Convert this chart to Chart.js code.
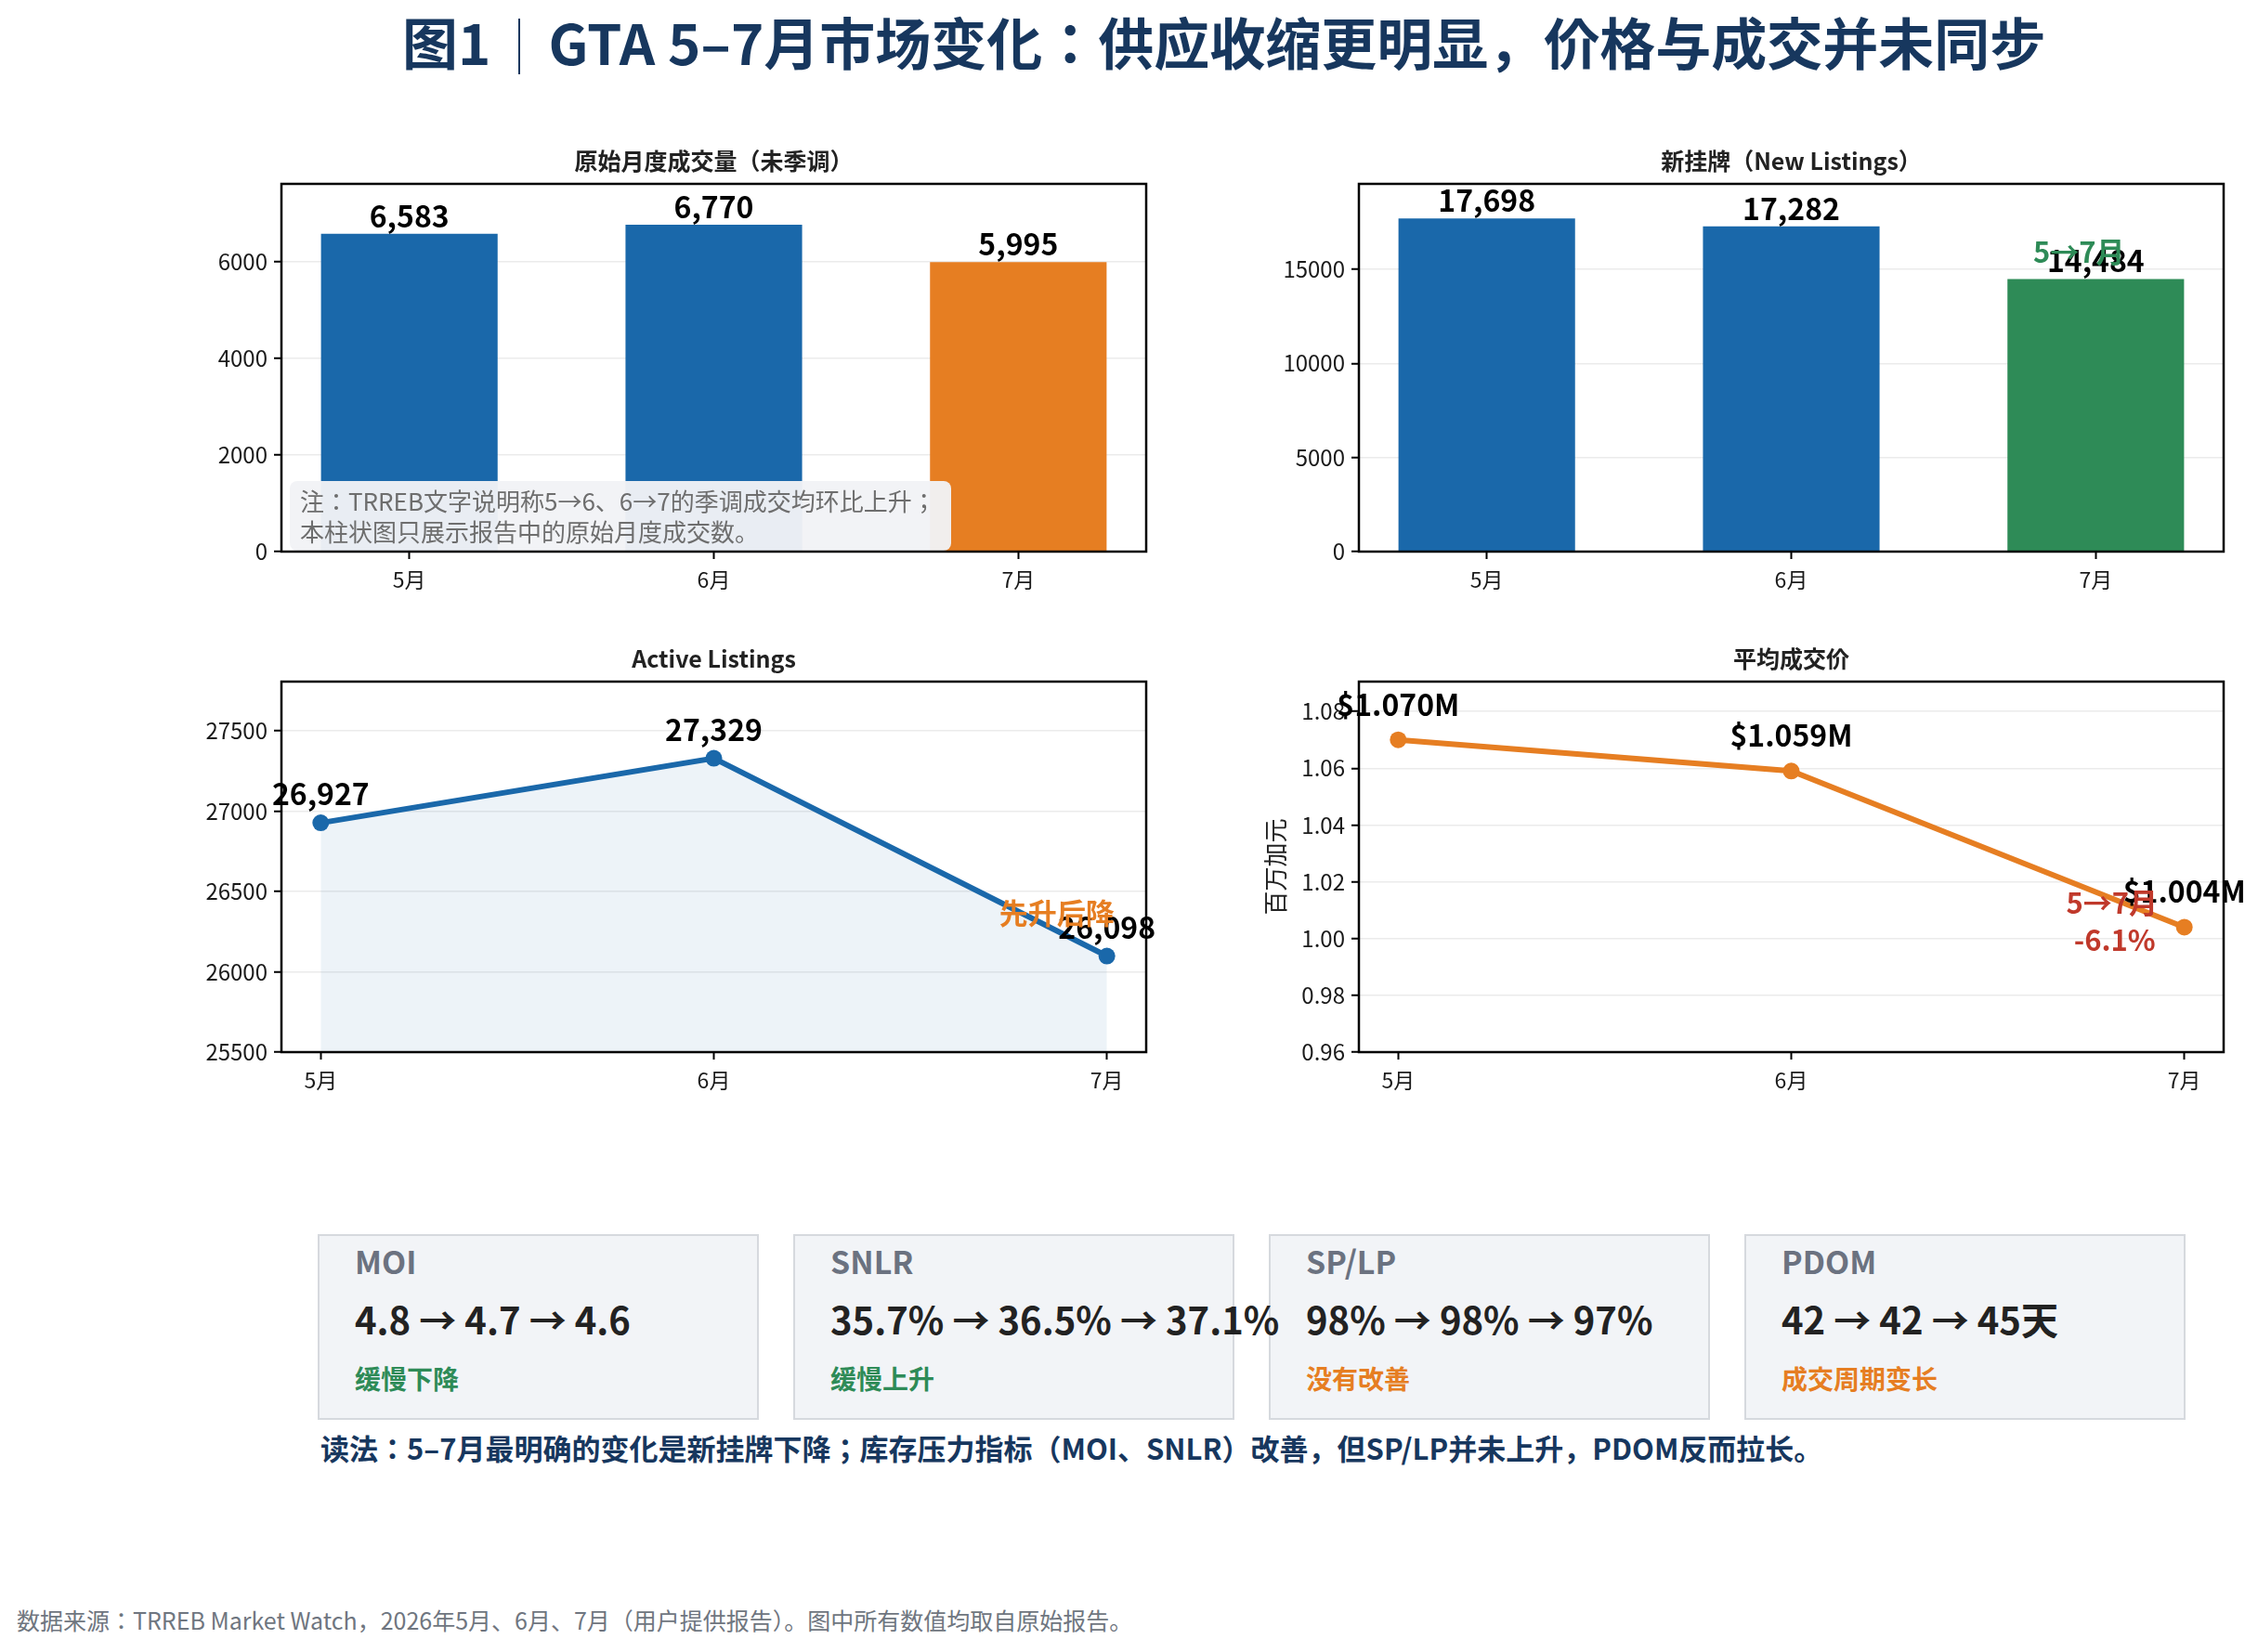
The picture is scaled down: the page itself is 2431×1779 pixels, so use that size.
<!DOCTYPE html>
<html lang="zh-CN">
<head>
<meta charset="utf-8">
<title>GTA 5–7月市场变化</title>
<script src="https://cdn.jsdelivr.net/npm/chart.js@4.4.1/dist/chart.umd.min.js"></script>
<style>
html, body { margin: 0; padding: 0; }
body { width: 2431px; height: 1779px; position: relative; overflow: hidden; background: #fff;
       font-family: "Noto Sans CJK JP", "Noto Sans CJK SC", "Noto Sans", sans-serif;
       font-feature-settings: "locl" 0; }
canvas { position: absolute; }
#title { position: absolute; left: 433px; top: 8px; font-size: 60px; line-height: 72px; font-weight: 700;
         color: #17375e; white-space: nowrap; }
#title .sep { display: inline-block; width: 2px; height: 60px; background: #17375e; vertical-align: -10px; margin: 0 30px; }
.card { position: absolute; top: 1329px; width: 471px; height: 196px; background: #f2f4f7; border: 2px solid #d6d9de; }
.card div { position: absolute; left: 38px; white-space: nowrap; z-index: 1; }
.card .k { top: 7px; font-size: 34px; line-height: 40px; font-weight: 700; color: #6b7280; }
.card .v { top: 64px; font-size: 40px; line-height: 50px; font-weight: 700; color: #222; }
.card .s { top: 136px; font-size: 28px; line-height: 34px; font-weight: 700; }
#reading { position: absolute; left: 345px; top: 1540px; font-size: 31px; line-height: 38px; font-weight: 700;
           color: #17375e; white-space: nowrap; }
#source { position: absolute; left: 18px; top: 1729px; font-size: 25px; line-height: 30px; color: #6f7680; white-space: nowrap; }
</style>
</head>
<body>
<div id="title">图1<span class="sep"></span>GTA 5–7月市场变化：供应收缩更明显，价格与成交并未同步</div>
<canvas id="c1" lang="und"></canvas>
<canvas id="c2" lang="und"></canvas>
<canvas id="c3" lang="und"></canvas>
<canvas id="c4" lang="und"></canvas>
<div id="cards"></div>
<div id="reading">读法：5–7月最明确的变化是新挂牌下降；库存压力指标（MOI、SNLR）改善，但SP/LP并未上升，PDOM反而拉长。</div>
<div id="source">数据来源：TRREB Market Watch，2026年5月、6月、7月（用户提供报告）。图中所有数值均取自原始报告。</div>
<script>
// data
const months = ['5月', '6月', '7月'];
const closedSales = [6583, 6770, 5995];        // 原始月度成交量（未季调）
const newListings = [17698, 17282, 14484];     // 新挂牌
const activeListings = [26927, 27329, 26098];  // Active Listings
const avgPrice = [1.070, 1.059, 1.004];        // 平均成交价，百万加元
const salesTicks = [0, 2000, 4000, 6000];
const listingTicks = [0, 5000, 10000, 15000];
const activeTicks = [25500, 26000, 26500, 27000, 27500];
const priceTicks = [0.96, 0.98, 1.00, 1.02, 1.04, 1.06, 1.08];
const kpiNames = ['MOI', 'SNLR', 'SP/LP', 'PDOM'];
const moi = [4.8, 4.7, 4.6];
const snlr = [35.7, 36.5, 37.1];
const spLp = [98, 98, 97];
const pdom = [42, 42, 45];
const kpiNotes = ['缓慢下降', '缓慢上升', '没有改善', '成交周期变长'];

const FONT = '"Noto Sans CJK JP", "Noto Sans CJK SC", "Noto Sans", sans-serif';
const BLUE = '#1a68aa', ORANGE = '#e67e22', GREEN = '#2e8b57', RED = '#c0392b';
Chart.defaults.font.family = FONT;
Chart.defaults.color = '#1a1a1a';

const comma = v => v.toLocaleString('en-US');

// room round each plot box, in page pixels
const PAD_L = 160, PAD_T = 70, PAD_B = 60;

function place(id, L, T, W, H, padR) {
  const c = document.getElementById(id);
  c.width = W + PAD_L + padR;
  c.height = H + PAD_T + PAD_B;
  c.style.left = (L - PAD_L) + 'px';
  c.style.top = (T - PAD_T) + 'px';
  return c;
}

function xScale(min, max) {
  return {
    type: 'linear', min: min, max: max, offset: false, bounds: 'data',
    afterBuildTicks: s => { s.ticks = months.map((m, i) => ({ value: i })); },
    afterFit: s => { s.height = PAD_B; },
    grid: { offset: false, drawOnChartArea: false, drawTicks: true, tickLength: 8, tickColor: '#000', tickWidth: 2 },
    border: { display: false },
    ticks: { callback: v => months[v], font: { size: 23 }, padding: 8, maxRotation: 0, autoSkip: false }
  };
}

function yScale(min, max, vals, fmt, z) {
  return {
    min: min, max: max, bounds: 'data', z: z,
    afterBuildTicks: s => { s.ticks = vals.map(v => ({ value: v })); },
    afterFit: s => { s.width = PAD_L; },
    grid: { color: 'rgba(190,190,190,0.3)', lineWidth: 1.5, tickColor: '#000', tickLength: 8, tickWidth: 2 },
    border: { display: false },
    ticks: { callback: fmt, font: { size: 24 }, padding: 7 }
  };
}

// value labels, notes, frame and panel title
function panelPlugin(p) {
  return {
    id: 'panel',
    afterDatasetsDraw(chart) {
      const ctx = chart.ctx, a = chart.chartArea;
      const pts = chart.getDatasetMeta(0).data;
      ctx.save();
      ctx.textAlign = 'center';
      ctx.textBaseline = 'alphabetic';
      ctx.font = 'bold 32px ' + FONT;
      ctx.fillStyle = '#000';
      pts.forEach((el, i) => ctx.fillText(p.labels[i], el.x, el.y - p.gap));
      (p.notes || []).forEach(n => {
        const el = pts[n.at];
        ctx.font = 'bold 31px ' + FONT;
        ctx.fillStyle = n.color;
        ctx.fillText(n.text, el.x + n.dx, el.y + n.dy);
      });
      if (p.box) {
        const x = a.left + 9, y = a.bottom - 76, w = 712, h = 75;
        ctx.fillStyle = 'rgba(241,243,246,0.96)';
        ctx.beginPath();
        ctx.roundRect(x, y, w, h, 8);
        ctx.fill();
        ctx.fillStyle = '#6e6e6e';
        ctx.textAlign = 'left';
        ctx.textBaseline = 'middle';
        ctx.font = '26px ' + FONT;
        p.box.forEach((t, i) => ctx.fillText(t, x + 11, y + 22 + i * 33));
      }
      ctx.restore();
    },
    afterDraw(chart) {
      const ctx = chart.ctx, a = chart.chartArea;
      ctx.save();
      ctx.strokeStyle = '#000';
      ctx.lineWidth = 2.5;
      ctx.strokeRect(a.left, a.top, a.right - a.left, a.bottom - a.top);
      ctx.fillStyle = '#222';
      ctx.textAlign = 'center';
      ctx.textBaseline = 'middle';
      ctx.font = 'bold 25px ' + FONT;
      ctx.fillText(p.title, (a.left + a.right) / 2, a.top - 25);
      if (p.yTitle) {
        ctx.translate(a.left - 90, (a.top + a.bottom) / 2);
        ctx.rotate(-Math.PI / 2);
        ctx.font = '26px ' + FONT;
        ctx.fillText(p.yTitle, 0, 0);
      }
      ctx.restore();
    }
  };
}

function opts(padR, x, y) {
  return {
    responsive: false, animation: false, devicePixelRatio: 1,
    layout: { padding: { top: PAD_T, right: padR, left: 0, bottom: 0 } },
    plugins: { legend: { display: false }, tooltip: { enabled: false } },
    scales: { x: x, y: y }
  };
}

const pts = arr => arr.map((v, i) => ({ x: i, y: v }));

// 原始月度成交量
new Chart(place('c1', 303, 198, 931, 396, 40), {
  type: 'bar',
  data: { datasets: [{ data: pts(closedSales), backgroundColor: [BLUE, BLUE, ORANGE],
    barPercentage: 0.58, categoryPercentage: 1 }] },
  options: opts(40, xScale(-0.42, 2.42), yScale(0, 7616, salesTicks, v => String(v), 1)),
  plugins: [panelPlugin({ title: '原始月度成交量（未季调）', labels: closedSales.map(comma), gap: 7,
    box: ['注：TRREB文字说明称5→6、6→7的季调成交均环比上升；', '本柱状图只展示报告中的原始月度成交数。'] })]
});

// 新挂牌
new Chart(place('c2', 1463, 198, 931, 396, 30), {
  type: 'bar',
  data: { datasets: [{ data: pts(newListings), backgroundColor: [BLUE, BLUE, GREEN],
    barPercentage: 0.58, categoryPercentage: 1 }] },
  options: opts(30, xScale(-0.42, 2.42), yScale(0, 19540, listingTicks, v => String(v), 1)),
  plugins: [panelPlugin({ title: '新挂牌（New Listings）', labels: newListings.map(comma), gap: 7,
    notes: [{ at: 2, text: '5→7月', color: GREEN, dx: -18, dy: -17 }] })]
});

// Active Listings
new Chart(place('c3', 303, 734, 931, 399, 40), {
  type: 'line',
  data: { datasets: [{ data: pts(activeListings), borderColor: BLUE, borderWidth: 6, tension: 0,
    pointRadius: 9, pointBackgroundColor: BLUE, pointBorderWidth: 0,
    fill: 'start', backgroundColor: 'rgba(26,104,170,0.08)' }] },
  options: opts(40, xScale(-0.1, 2.1), yScale(25500, 27806, activeTicks, v => String(v), 0)),
  plugins: [panelPlugin({ title: 'Active Listings', labels: activeListings.map(comma), gap: 19,
    notes: [{ at: 2, text: '先升后降', color: ORANGE, dx: -54, dy: -35 }] })]
});

// 平均成交价
new Chart(place('c4', 1463, 734, 931, 399, 30), {
  type: 'line',
  data: { datasets: [{ data: pts(avgPrice), borderColor: ORANGE, borderWidth: 6, tension: 0,
    pointRadius: 9, pointBackgroundColor: ORANGE, pointBorderWidth: 0, fill: false }] },
  options: opts(30, xScale(-0.1, 2.1), yScale(0.96, 1.0905, priceTicks, v => v.toFixed(2), 0)),
  plugins: [panelPlugin({ title: '平均成交价', yTitle: '百万加元', labels: avgPrice.map(v => '$' + v.toFixed(3) + 'M'), gap: 26,
    notes: [{ at: 2, text: '5→7月', color: RED, dx: -78, dy: -14 },
            { at: 2, text: '-6.1%', color: RED, dx: -75, dy: 26 }] })]
});

// KPI cards
const kpiValues = [
  moi.join(' → '),
  snlr.map(v => v + '%').join(' → '),
  spLp.map(v => v + '%').join(' → '),
  pdom.join(' → ') + '天'
];
const noteColors = [GREEN, GREEN, ORANGE, ORANGE];
const cards = document.getElementById('cards');
kpiNames.forEach((k, i) => {
  const d = document.createElement('div');
  d.className = 'card';
  d.style.left = (342 + i * 512) + 'px';
  d.innerHTML = '<div class="k">' + k + '</div><div class="v">' + kpiValues[i] +
    '</div><div class="s" style="color:' + noteColors[i] + '">' + kpiNotes[i] + '</div>';
  cards.appendChild(d);
});
</script>
</body>
</html>
